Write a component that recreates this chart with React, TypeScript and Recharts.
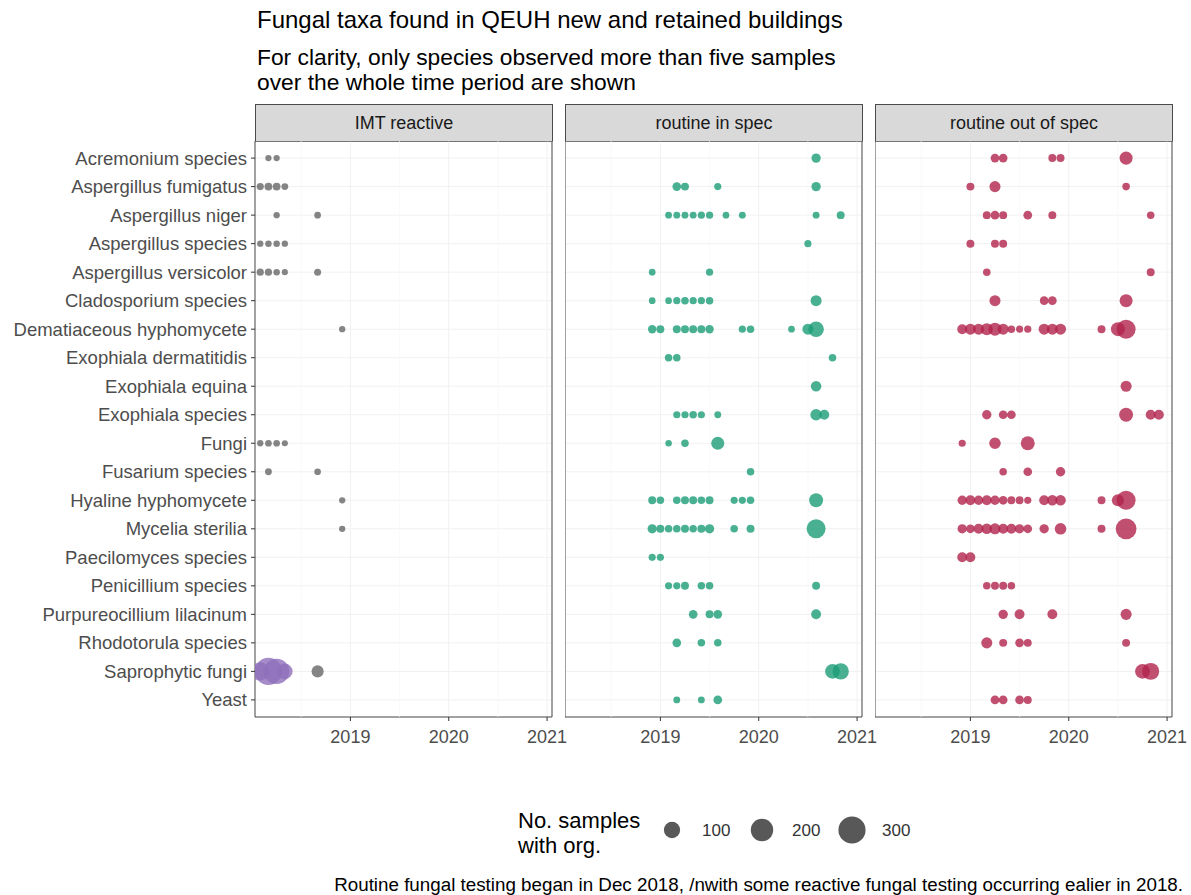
import React from 'react';
import {
  ScatterChart,
  Scatter,
  XAxis,
  YAxis,
  ZAxis,
  CartesianGrid,
  ReferenceArea,
  ReferenceLine,
} from 'recharts';

// ---------- data ----------
const TAXA = [
  'Acremonium species',
  'Aspergillus fumigatus',
  'Aspergillus niger',
  'Aspergillus species',
  'Aspergillus versicolor',
  'Cladosporium species',
  'Dematiaceous hyphomycete',
  'Exophiala dermatitidis',
  'Exophiala equina',
  'Exophiala species',
  'Fungi',
  'Fusarium species',
  'Hyaline hyphomycete',
  'Mycelia sterilia',
  'Paecilomyces species',
  'Penicillium species',
  'Purpureocillium lilacinum',
  'Rhodotorula species',
  'Saprophytic fungi',
  'Yeast',
];

const PANELS = ['IMT reactive', 'routine in spec', 'routine out of spec'];
const X_TICKS = [2019, 2020, 2021];
const X_MINOR = [2018.5, 2019.5, 2020.5];
const X_DOMAIN: [number, number] = [2018.03, 2021.05];
const SIZE_DOMAIN: [number, number] = [0, 300];
const SIZE_RANGE: [number, number] = [22, 580];
const LEGEND_VALUES = [100, 200, 300];

type Obs = [string, string, number]; // taxon, month, no. samples with organism

const IMT_REACTIVE: Obs[] = [
  ['Acremonium species', '2018-03', 5], ['Acremonium species', '2018-04', 5],
  ['Aspergillus fumigatus', '2018-02', 10], ['Aspergillus fumigatus', '2018-03', 14],
  ['Aspergillus fumigatus', '2018-04', 14], ['Aspergillus fumigatus', '2018-05', 8],
  ['Aspergillus niger', '2018-04', 5], ['Aspergillus niger', '2018-09', 7],
  ['Aspergillus species', '2018-02', 5], ['Aspergillus species', '2018-03', 6],
  ['Aspergillus species', '2018-04', 6], ['Aspergillus species', '2018-05', 5],
  ['Aspergillus versicolor', '2018-02', 10], ['Aspergillus versicolor', '2018-03', 10],
  ['Aspergillus versicolor', '2018-04', 6], ['Aspergillus versicolor', '2018-05', 4],
  ['Aspergillus versicolor', '2018-09', 9],
  ['Dematiaceous hyphomycete', '2018-12', 5],
  ['Fungi', '2018-02', 5], ['Fungi', '2018-03', 7], ['Fungi', '2018-04', 7], ['Fungi', '2018-05', 4],
  ['Fusarium species', '2018-03', 8], ['Fusarium species', '2018-09', 7],
  ['Hyaline hyphomycete', '2018-12', 5],
  ['Mycelia sterilia', '2018-12', 5],
  ['Saprophytic fungi', '2018-09', 50],
];

const IMT_REACTIVE_EARLY_SAPROPHYTIC: Obs[] = [
  ['Saprophytic fungi', '2018-02', 130], ['Saprophytic fungi', '2018-03', 300],
  ['Saprophytic fungi', '2018-04', 260], ['Saprophytic fungi', '2018-05', 90],
];

const ROUTINE_IN_SPEC: Obs[] = [
  ['Acremonium species', '2020-08', 25],
  ['Aspergillus fumigatus', '2019-03', 20], ['Aspergillus fumigatus', '2019-04', 15],
  ['Aspergillus fumigatus', '2019-08', 10], ['Aspergillus fumigatus', '2020-08', 25],
  ['Aspergillus niger', '2019-02', 8], ['Aspergillus niger', '2019-03', 8], ['Aspergillus niger', '2019-04', 8],
  ['Aspergillus niger', '2019-05', 8], ['Aspergillus niger', '2019-06', 10], ['Aspergillus niger', '2019-07', 10],
  ['Aspergillus niger', '2019-09', 7], ['Aspergillus niger', '2019-11', 8], ['Aspergillus niger', '2020-08', 8],
  ['Aspergillus niger', '2020-11', 15],
  ['Aspergillus species', '2020-07', 10],
  ['Aspergillus versicolor', '2018-12', 7], ['Aspergillus versicolor', '2019-07', 10],
  ['Cladosporium species', '2018-12', 7], ['Cladosporium species', '2019-02', 7],
  ['Cladosporium species', '2019-03', 10], ['Cladosporium species', '2019-04', 12],
  ['Cladosporium species', '2019-05', 10], ['Cladosporium species', '2019-06', 10],
  ['Cladosporium species', '2019-07', 12], ['Cladosporium species', '2020-08', 40],
  ['Dematiaceous hyphomycete', '2018-12', 18], ['Dematiaceous hyphomycete', '2019-01', 15],
  ['Dematiaceous hyphomycete', '2019-03', 15], ['Dematiaceous hyphomycete', '2019-04', 15],
  ['Dematiaceous hyphomycete', '2019-05', 15], ['Dematiaceous hyphomycete', '2019-06', 15],
  ['Dematiaceous hyphomycete', '2019-07', 18], ['Dematiaceous hyphomycete', '2019-11', 10],
  ['Dematiaceous hyphomycete', '2019-12', 12], ['Dematiaceous hyphomycete', '2020-05', 7],
  ['Dematiaceous hyphomycete', '2020-07', 40], ['Dematiaceous hyphomycete', '2020-08', 90],
  ['Exophiala dermatitidis', '2019-02', 12], ['Exophiala dermatitidis', '2019-03', 12],
  ['Exophiala dermatitidis', '2020-10', 12],
  ['Exophiala equina', '2020-08', 35],
  ['Exophiala species', '2019-03', 10], ['Exophiala species', '2019-04', 10],
  ['Exophiala species', '2019-05', 12], ['Exophiala species', '2019-06', 10],
  ['Exophiala species', '2019-08', 8], ['Exophiala species', '2020-08', 45],
  ['Exophiala species', '2020-09', 30],
  ['Fungi', '2019-02', 6], ['Fungi', '2019-04', 12], ['Fungi', '2019-08', 60],
  ['Fusarium species', '2019-12', 12],
  ['Hyaline hyphomycete', '2018-12', 15], ['Hyaline hyphomycete', '2019-01', 12],
  ['Hyaline hyphomycete', '2019-03', 12], ['Hyaline hyphomycete', '2019-04', 15],
  ['Hyaline hyphomycete', '2019-05', 15], ['Hyaline hyphomycete', '2019-06', 12],
  ['Hyaline hyphomycete', '2019-07', 15], ['Hyaline hyphomycete', '2019-10', 10],
  ['Hyaline hyphomycete', '2019-11', 10], ['Hyaline hyphomycete', '2019-12', 12],
  ['Hyaline hyphomycete', '2020-08', 70],
  ['Mycelia sterilia', '2018-12', 25], ['Mycelia sterilia', '2019-01', 15],
  ['Mycelia sterilia', '2019-02', 12], ['Mycelia sterilia', '2019-03', 12],
  ['Mycelia sterilia', '2019-04', 15], ['Mycelia sterilia', '2019-05', 12],
  ['Mycelia sterilia', '2019-06', 15], ['Mycelia sterilia', '2019-07', 25],
  ['Mycelia sterilia', '2019-10', 12], ['Mycelia sterilia', '2019-12', 15],
  ['Mycelia sterilia', '2020-08', 140],
  ['Paecilomyces species', '2018-12', 10], ['Paecilomyces species', '2019-01', 10],
  ['Penicillium species', '2019-02', 10], ['Penicillium species', '2019-03', 10],
  ['Penicillium species', '2019-04', 15], ['Penicillium species', '2019-06', 12],
  ['Penicillium species', '2019-07', 12], ['Penicillium species', '2020-08', 15],
  ['Purpureocillium lilacinum', '2019-05', 20], ['Purpureocillium lilacinum', '2019-07', 15],
  ['Purpureocillium lilacinum', '2019-08', 20], ['Purpureocillium lilacinum', '2020-08', 30],
  ['Rhodotorula species', '2019-03', 20], ['Rhodotorula species', '2019-06', 12],
  ['Rhodotorula species', '2019-08', 12],
  ['Saprophytic fungi', '2020-10', 80], ['Saprophytic fungi', '2020-11', 100],
  ['Yeast', '2019-03', 8], ['Yeast', '2019-06', 8], ['Yeast', '2019-08', 20],
];

const ROUTINE_OUT_OF_SPEC: Obs[] = [
  ['Acremonium species', '2019-04', 20], ['Acremonium species', '2019-05', 20],
  ['Acremonium species', '2019-11', 15], ['Acremonium species', '2019-12', 15],
  ['Acremonium species', '2020-08', 60],
  ['Aspergillus fumigatus', '2019-01', 15], ['Aspergillus fumigatus', '2019-04', 40],
  ['Aspergillus fumigatus', '2020-08', 12],
  ['Aspergillus niger', '2019-03', 15], ['Aspergillus niger', '2019-04', 20],
  ['Aspergillus niger', '2019-05', 15], ['Aspergillus niger', '2019-08', 20],
  ['Aspergillus niger', '2019-11', 15], ['Aspergillus niger', '2020-11', 12],
  ['Aspergillus species', '2019-01', 15], ['Aspergillus species', '2019-04', 15],
  ['Aspergillus species', '2019-05', 15],
  ['Aspergillus versicolor', '2019-03', 12], ['Aspergillus versicolor', '2020-11', 15],
  ['Cladosporium species', '2019-04', 40], ['Cladosporium species', '2019-10', 20],
  ['Cladosporium species', '2019-11', 20], ['Cladosporium species', '2020-08', 60],
  ['Dematiaceous hyphomycete', '2018-12', 30], ['Dematiaceous hyphomycete', '2019-01', 40],
  ['Dematiaceous hyphomycete', '2019-02', 40], ['Dematiaceous hyphomycete', '2019-03', 50],
  ['Dematiaceous hyphomycete', '2019-04', 60], ['Dematiaceous hyphomycete', '2019-05', 40],
  ['Dematiaceous hyphomycete', '2019-06', 12], ['Dematiaceous hyphomycete', '2019-07', 10],
  ['Dematiaceous hyphomycete', '2019-08', 10], ['Dematiaceous hyphomycete', '2019-10', 40],
  ['Dematiaceous hyphomycete', '2019-11', 40], ['Dematiaceous hyphomycete', '2019-12', 40],
  ['Dematiaceous hyphomycete', '2020-05', 15], ['Dematiaceous hyphomycete', '2020-07', 70],
  ['Dematiaceous hyphomycete', '2020-08', 140],
  ['Exophiala equina', '2020-08', 40],
  ['Exophiala species', '2019-03', 25], ['Exophiala species', '2019-05', 20],
  ['Exophiala species', '2019-06', 20], ['Exophiala species', '2020-08', 70],
  ['Exophiala species', '2020-11', 30], ['Exophiala species', '2020-12', 30],
  ['Fungi', '2018-12', 10], ['Fungi', '2019-04', 45], ['Fungi', '2019-08', 70],
  ['Fusarium species', '2019-05', 12], ['Fusarium species', '2019-08', 20],
  ['Fusarium species', '2019-12', 25],
  ['Hyaline hyphomycete', '2018-12', 25], ['Hyaline hyphomycete', '2019-01', 30],
  ['Hyaline hyphomycete', '2019-02', 25], ['Hyaline hyphomycete', '2019-03', 30],
  ['Hyaline hyphomycete', '2019-04', 25], ['Hyaline hyphomycete', '2019-05', 20],
  ['Hyaline hyphomycete', '2019-06', 15], ['Hyaline hyphomycete', '2019-07', 15],
  ['Hyaline hyphomycete', '2019-08', 10], ['Hyaline hyphomycete', '2019-10', 30],
  ['Hyaline hyphomycete', '2019-11', 35], ['Hyaline hyphomycete', '2019-12', 35],
  ['Hyaline hyphomycete', '2020-05', 15], ['Hyaline hyphomycete', '2020-07', 50],
  ['Hyaline hyphomycete', '2020-08', 140],
  ['Mycelia sterilia', '2018-12', 25], ['Mycelia sterilia', '2019-01', 20],
  ['Mycelia sterilia', '2019-02', 30], ['Mycelia sterilia', '2019-03', 35],
  ['Mycelia sterilia', '2019-04', 40], ['Mycelia sterilia', '2019-05', 30],
  ['Mycelia sterilia', '2019-06', 30], ['Mycelia sterilia', '2019-07', 25],
  ['Mycelia sterilia', '2019-08', 20], ['Mycelia sterilia', '2019-10', 25],
  ['Mycelia sterilia', '2019-12', 45], ['Mycelia sterilia', '2020-05', 15],
  ['Mycelia sterilia', '2020-08', 170],
  ['Paecilomyces species', '2018-12', 30], ['Paecilomyces species', '2019-01', 30],
  ['Penicillium species', '2019-03', 12], ['Penicillium species', '2019-04', 15],
  ['Penicillium species', '2019-05', 15], ['Penicillium species', '2019-06', 12],
  ['Purpureocillium lilacinum', '2019-05', 25], ['Purpureocillium lilacinum', '2019-07', 30],
  ['Purpureocillium lilacinum', '2019-11', 30], ['Purpureocillium lilacinum', '2020-08', 40],
  ['Rhodotorula species', '2019-03', 40], ['Rhodotorula species', '2019-05', 15],
  ['Rhodotorula species', '2019-07', 20], ['Rhodotorula species', '2019-08', 15],
  ['Rhodotorula species', '2020-08', 15],
  ['Saprophytic fungi', '2020-10', 80], ['Saprophytic fungi', '2020-11', 110],
  ['Yeast', '2019-04', 20], ['Yeast', '2019-05', 20], ['Yeast', '2019-07', 20], ['Yeast', '2019-08', 15],
];

// ---------- helpers ----------
const FONT = '"Liberation Sans", Arial, Helvetica, sans-serif';
const monthToYear = (ym: string) => {
  const [y, m] = ym.split('-').map(Number);
  return y + (m - 1) / 12;
};
const toPoints = (obs: Obs[]) =>
  obs.map(([taxon, month, n]) => ({ x: monthToYear(month), y: TAXA.indexOf(taxon), n, taxon }));

const Y_TICKS = TAXA.map((_, i) => i);
const Y_DOMAIN: [number, number] = [-0.6, TAXA.length - 1 + 0.6];

const PLOT_W = 297;
const PLOT_H = 576;
const PLOT_TOP = 141;
const X_AXIS_H = 40;
const Y_AXIS_W = 255;
const RIGHT_PAD = 26;

const YTick = (props: any) => {
  const { x, y, payload } = props;
  return (
    <text x={x} y={y} dy="0.35em" textAnchor="end" fontSize={18.5} fill="#4d4d4d" fontFamily={FONT}>
      {TAXA[payload.value]}
    </text>
  );
};

const XTick = (props: any) => {
  const { x, y, payload } = props;
  return (
    <text x={x} y={y} dy="0.72em" textAnchor="middle" fontSize={18} fill="#4d4d4d" fontFamily={FONT}>
      {payload.value}
    </text>
  );
};

type SeriesDef = { data: Obs[]; color: string; name: string };

function Panel({ left, showY, label, series }: { left: number; showY: boolean; label: string; series: SeriesDef[] }) {
  const yw = showY ? Y_AXIS_W : 0;
  return (
    <>
      <div
        style={{
          position: 'absolute',
          left: left + yw,
          top: 104,
          width: PLOT_W + 1,
          height: 38,
          boxSizing: 'border-box',
          background: '#d9d9d9',
          border: '1px solid #4a4a4a',
          fontFamily: FONT,
          fontSize: 18,
          color: '#1a1a1a',
          display: 'flex',
          alignItems: 'center',
          justifyContent: 'center',
        }}
      >
        {label}
      </div>
      <div style={{ position: 'absolute', left, top: PLOT_TOP }}>
        <ScatterChart
          width={yw + PLOT_W + RIGHT_PAD}
          height={PLOT_H + X_AXIS_H}
          margin={{ top: 0, right: RIGHT_PAD, bottom: 0, left: 0 }}
        >
          <CartesianGrid stroke="#f1f1f1" strokeWidth={1} />
          {X_MINOR.map((v) => (
            <ReferenceLine key={v} x={v} stroke="#f6f6f6" strokeWidth={0.7} />
          ))}
          <XAxis
            type="number"
            dataKey="x"
            domain={X_DOMAIN}
            ticks={X_TICKS}
            allowDataOverflow
            height={X_AXIS_H}
            axisLine={false}
            tickLine={{ stroke: '#333' }}
            tickSize={4}
            tickMargin={9}
            tick={<XTick />}
          />
          <YAxis
            type="number"
            dataKey="y"
            domain={Y_DOMAIN}
            ticks={Y_TICKS}
            interval={0}
            reversed
            allowDataOverflow
            hide={!showY}
            width={yw}
            axisLine={false}
            tickLine={{ stroke: '#333' }}
            tickSize={4}
            tickMargin={4}
            tick={<YTick />}
          />
          <ZAxis type="number" dataKey="n" domain={SIZE_DOMAIN} range={SIZE_RANGE} />
          {series.map((s) => (
            <Scatter
              key={s.name}
              name={s.name}
              data={toPoints(s.data)}
              fill={s.color}
              fillOpacity={0.8}
              isAnimationActive={false}
            />
          ))}
          <ReferenceArea
            x1={X_DOMAIN[0]}
            x2={X_DOMAIN[1]}
            y1={Y_DOMAIN[0]}
            y2={Y_DOMAIN[1]}
            fill="none"
            stroke="#4a4a4a"
            strokeWidth={1}
            ifOverflow="visible"
          />
        </ScatterChart>
      </div>
    </>
  );
}

const LegendKey = (props: any) => {
  const { cx, cy, size, width, payload } = props;
  const r = size ? Math.sqrt(size / Math.PI) : width / 2;
  return (
    <g>
      <circle cx={cx} cy={cy} r={r} fill="#333" fillOpacity={0.82} />
      <text x={cx + 30} y={cy} dy="0.35em" fontSize={17} fill="#333" fontFamily={FONT}>
        {payload.n}
      </text>
    </g>
  );
};

export default function App() {
  return (
    <div
      style={{
        position: 'absolute',
        left: 0,
        top: 0,
        width: 1191,
        height: 895,
        background: '#fff',
        overflow: 'hidden',
        fontFamily: FONT,
      }}
    >
      <div style={{ position: 'absolute', left: 257, top: 6, fontSize: 24, lineHeight: '28px', color: '#000', whiteSpace: 'nowrap' }}>
        Fungal taxa found in QEUH new and retained buildings
      </div>
      <div style={{ position: 'absolute', left: 257, top: 45, fontSize: 22.8, lineHeight: '25px', color: '#000', whiteSpace: 'nowrap' }}>
        For clarity, only species observed more than five samples
        <br />
        over the whole time period are shown
      </div>

      <Panel left={0} showY label={PANELS[0]} series={[
        { data: IMT_REACTIVE, color: '#666666', name: 'imt' },
        { data: IMT_REACTIVE_EARLY_SAPROPHYTIC, color: '#8f6fba', name: 'imt-sapro' },
      ]} />
      <Panel left={565} showY={false} label={PANELS[1]} series={[
        { data: ROUTINE_IN_SPEC, color: '#1b9e77', name: 'in' },
      ]} />
      <Panel left={875} showY={false} label={PANELS[2]} series={[
        { data: ROUTINE_OUT_OF_SPEC, color: '#b2234c', name: 'out' },
      ]} />

      <div style={{ position: 'absolute', left: 518, top: 808, fontSize: 22, lineHeight: '25px', color: '#000', whiteSpace: 'nowrap' }}>
        No. samples
        <br />
        with org.
      </div>
      <div style={{ position: 'absolute', left: 650, top: 810 }}>
        <ScatterChart width={270} height={40} margin={{ top: 0, right: 68, bottom: 0, left: 22 }}>
          <XAxis type="number" dataKey="i" domain={[0, 2]} hide />
          <YAxis type="number" dataKey="y" domain={[0, 1]} hide />
          <ZAxis type="number" dataKey="n" domain={SIZE_DOMAIN} range={SIZE_RANGE} />
          <Scatter
            data={LEGEND_VALUES.map((n, i) => ({ i, y: 0.5, n }))}
            shape={LegendKey}
            isAnimationActive={false}
          />
        </ScatterChart>
      </div>

      <div style={{ position: 'absolute', right: 8, top: 874, fontSize: 18.8, lineHeight: '22px', color: '#000', whiteSpace: 'nowrap' }}>
        Routine fungal testing began in Dec 2018, /nwith some reactive fungal testing occurring ealier in 2018.
      </div>
    </div>
  );
}
